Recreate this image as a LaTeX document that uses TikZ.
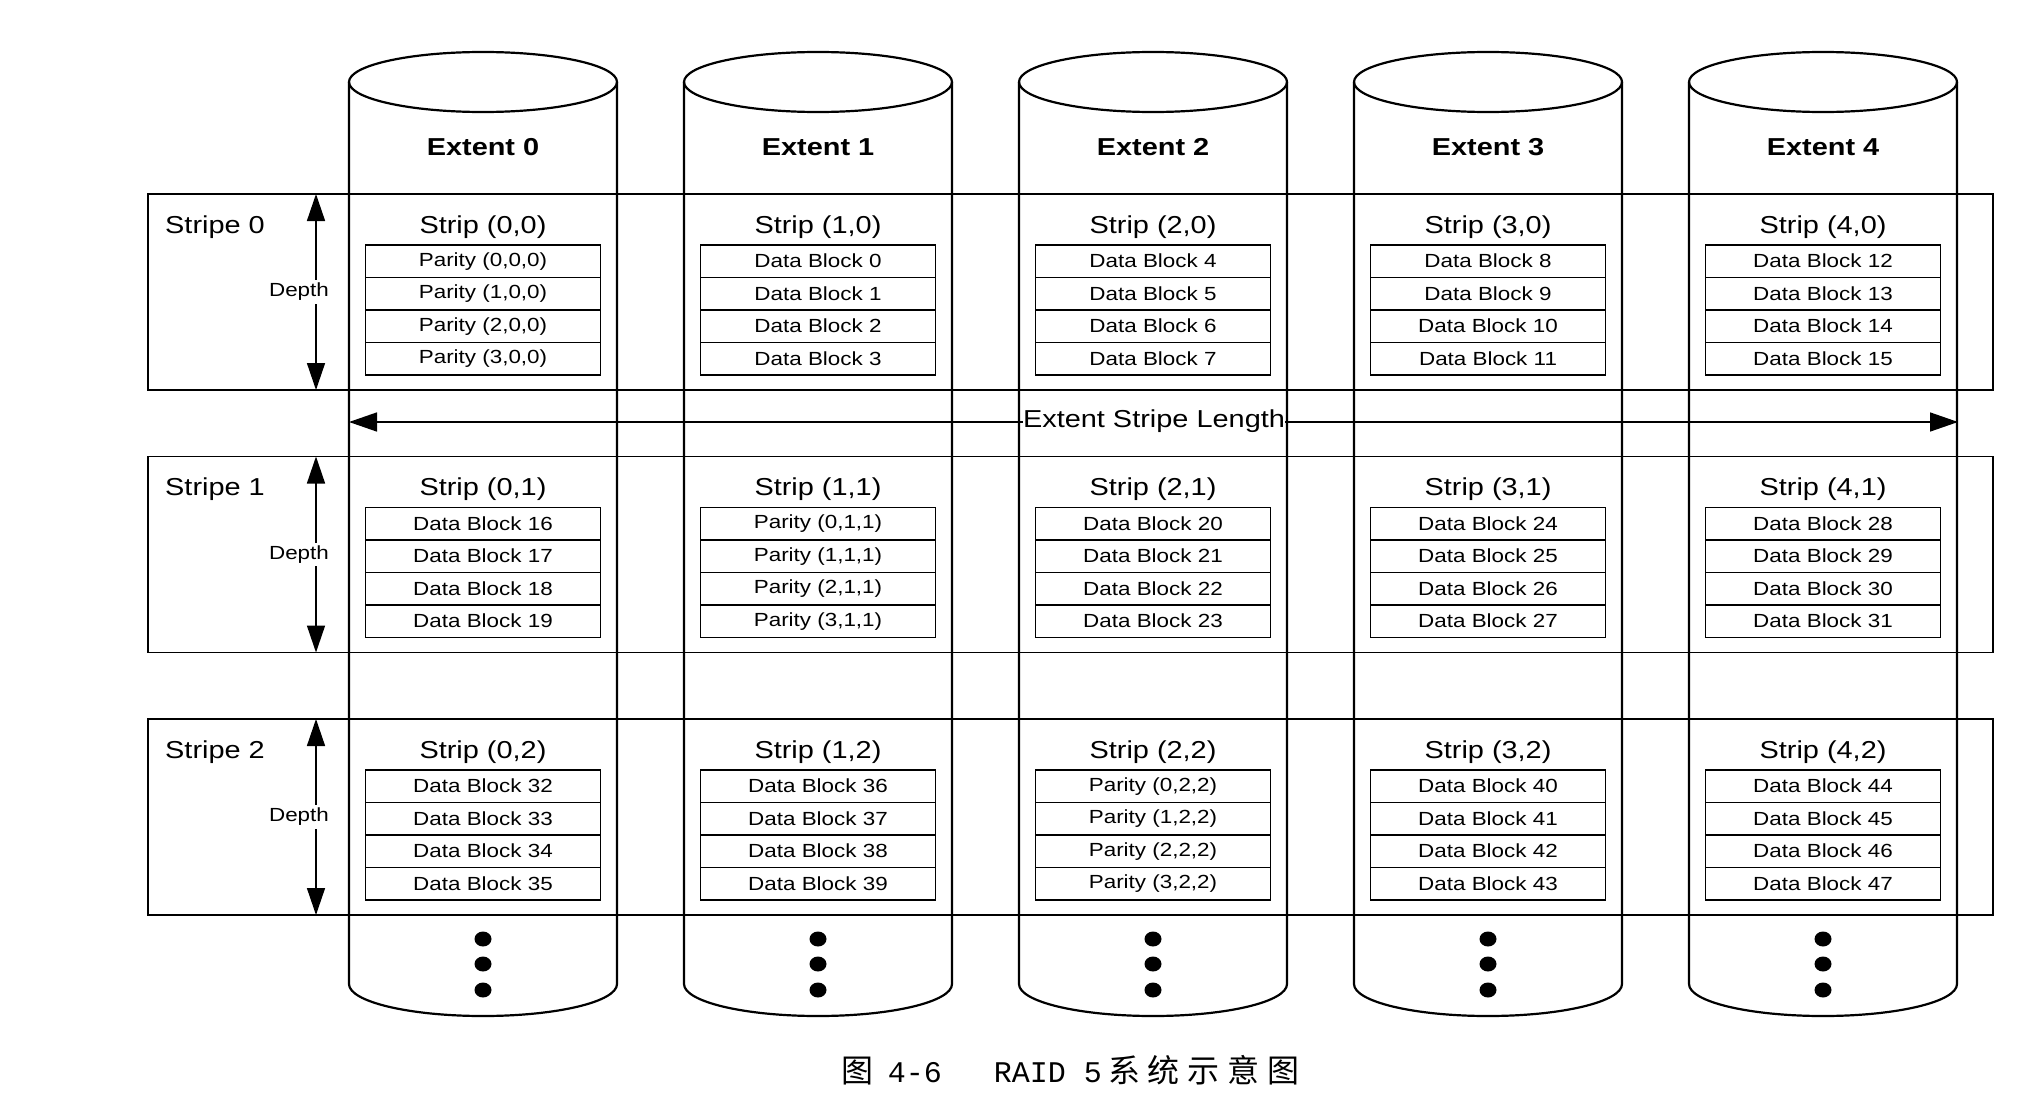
\documentclass[tikz,border=0pt]{standalone}
\usepackage{fontspec}
\setmainfont{Liberation Sans}[FakeStretch=1.18]
\newfontfamily\cjkfont{Noto Sans CJK SC}
\newfontfamily\capmono{Liberation Mono}
\usetikzlibrary{arrows.meta}
\begin{document}
\begin{tikzpicture}[x=1pt,y=-1pt,
  cyl/.style={line width=2.2pt},
  stripebox/.style={line width=1.8pt},
  blk/.style={draw, fill=white, line width=1.8pt, minimum width=235pt, minimum height=32.5pt,
    inner sep=0pt, anchor=north, font=\fontsize{19}{19}\selectfont},
  biglbl/.style={inner sep=0pt, font=\fontsize{24.5}{24.5}\selectfont},
  extlbl/.style={inner sep=0pt, font=\fontsize{24.5}{24.5}\selectfont\bfseries},
  depthlbl/.style={fill=white, inner xsep=1pt, inner ysep=3pt, font=\fontsize{19}{19}\selectfont},
  dep/.style={line width=1.5pt, {Triangle[length=27pt,width=18pt]}-{Triangle[length=27pt,width=18pt]}},
  esl/.style={line width=1.5pt, {Triangle[length=28pt,width=19pt]}-{Triangle[length=28pt,width=19pt]}},
  dot/.style={fill=black}
]
\useasboundingbox[fill=white] (0,0) rectangle (2036,1108);

% cylinders (extents)
\foreach \e in {0,...,4} {
  \pgfmathsetmacro\cx{483+335*\e}
  \draw[cyl] (\cx,82) ellipse [x radius=134pt, y radius=30pt];
  \draw[cyl] (\cx-134,82) -- (\cx-134,984)
     arc[start angle=180, end angle=360, x radius=134pt, y radius=32pt] -- (\cx+134,82);
  \node[extlbl] (ext-\e) at (\cx,147) {Extent \e};
  \foreach \d [count=\i] in {939,964,990} {
    \fill[dot] (\cx,\d) ellipse [x radius=8.5pt, y radius=7.5pt];
  }
}

% stripes
\foreach \s in {0,1,2} {
  \pgfmathsetmacro\T{194+262.5*\s}
  \draw[stripebox] (148,\T) rectangle (1993,\T+196);
  \node[biglbl, anchor=west] (stripe-\s) at (165,\T+33) {Stripe \s};
  \coordinate (dtop-\s) at (316,\T);
  \coordinate (dbot-\s) at (316,\T+196);
  \draw[dep] (dtop-\s) -- (dbot-\s);
  \node[depthlbl] (depth-\s) at (299,\T+98) {Depth};
  \foreach \e in {0,...,4} {
    \pgfmathsetmacro\cx{483+335*\e}
    \node[biglbl] (strip-\e-\s) at (\cx,\T+33) {Strip (\e,\s)};
    \foreach \r in {0,...,3} {
      \pgfmathtruncatemacro\k{\e<\s ? \e : \e-1}
      \pgfmathtruncatemacro\n{16*\s+4*\k+\r}
      \ifnum\e=\s
        \node[blk] (blk-\e-\s-\r) at (\cx,\T+50+32.5*\r) {Parity (\r,\s,\s)};
      \else
        \node[blk] (blk-\e-\s-\r) at (\cx,\T+50+32.5*\r) {Data Block \n};
      \fi
    }
  }
}

% extent stripe length
\coordinate (esl-l) at (349,422);
\coordinate (esl-r) at (1958,422);
\draw[esl] (esl-l) -- (esl-r);
\node[biglbl, fill=white, inner ysep=9pt] (esl-lbl) at (1154,421) {Extent Stripe Length};

% caption
\node[inner sep=0pt] (caption) at (1071,1070)
  {{\cjkfont\fontsize{32}{32}\selectfont 图}\hspace{14pt}{\capmono\fontsize{30}{30}\selectfont 4-6}\hspace{52pt}{\capmono\fontsize{30}{30}\selectfont RAID 5}\hspace{6pt}{\cjkfont\fontsize{32}{32}\selectfont 系\hspace{8pt}统\hspace{8pt}示\hspace{8pt}意\hspace{8pt}图}};
\end{tikzpicture}
\end{document}
